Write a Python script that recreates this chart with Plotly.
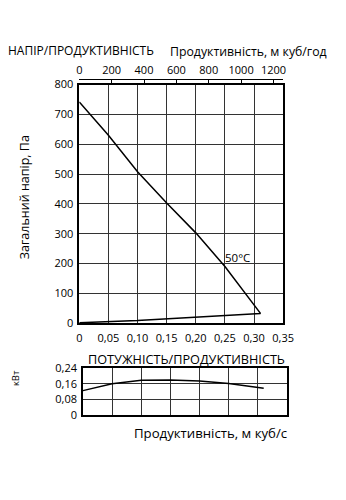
import plotly.graph_objects as go

# Data
flow_head = [0.0, 0.05, 0.10, 0.15, 0.20, 0.25, 0.311, 0.20, 0.10, 0.0]
head = [742, 630, 508, 403, 303, 190, 33, 20, 9, 2]
flow_power = [0.0, 0.05, 0.10, 0.15, 0.20, 0.25, 0.31]
power = [0.125, 0.160, 0.177, 0.179, 0.174, 0.161, 0.137]

x_ticks = [0, 0.05, 0.10, 0.15, 0.20, 0.25, 0.30, 0.35]
x_labels = ["0", "0,05", "0,10", "0,15", "0,20", "0,25", "0,30", "0,35"]
top_ticks = [0, 200, 400, 600, 800, 1000, 1200]
y_ticks = [0, 100, 200, 300, 400, 500, 600, 700, 800]
p_ticks = [0, 0.08, 0.16, 0.24]
p_labels = ["0", "0,08", "0,16", "0,24"]

W, H = 346, 500
def px(x): return x / W
def py(y): return 1 - y / H

FONT = "Open Sans"
TF = dict(family=FONT, size=11, color="black")
fig = go.Figure()
fig.add_trace(go.Scatter(x=flow_head, y=head, mode="lines",
                         line=dict(color="black", width=1.5), xaxis="x", yaxis="y",
                         showlegend=False, hoverinfo="skip"))
fig.add_trace(go.Scatter(x=flow_power, y=power, mode="lines",
                         line=dict(color="black", width=1.5), xaxis="x3", yaxis="y3",
                         showlegend=False, hoverinfo="skip"))

grid = dict(showgrid=True, gridcolor="#333", gridwidth=1, showline=True,
            linecolor="black", linewidth=1.5, mirror=True, zeroline=False,
            tickfont=TF)

fig.update_layout(
    width=W, height=H, margin=dict(l=0, r=0, t=0, b=0),
    paper_bgcolor="white", plot_bgcolor="white",
    xaxis=dict(domain=[px(79.5), px(292)], range=[0, 0.35], tickvals=x_ticks,
               ticktext=x_labels, anchor="y", ticks="outside", ticklen=4,
               tickcolor="rgba(0,0,0,0)", **grid),
    yaxis=dict(domain=[py(325), py(79)], range=[0, 800], tickvals=y_ticks,
               anchor="x", ticks="outside", ticklen=2, tickcolor="rgba(0,0,0,0)", **grid),
    xaxis2=dict(domain=[px(79.5), px(292)], range=[0, 1260], tickvals=top_ticks,
                overlaying="x", side="top", anchor="free", position=py(73),
                showline=True, linecolor="black", linewidth=1, ticks="inside",
                ticklen=3, tickcolor="black", showgrid=False, zeroline=False,
                tickfont=TF),
    xaxis3=dict(domain=[px(83.3), px(296)], range=[0, 0.35], tickvals=x_ticks,
                showticklabels=False, anchor="y3", ticks="", **grid),
    yaxis3=dict(domain=[py(420), py(371)], range=[0, 0.24], tickvals=p_ticks,
                ticktext=p_labels, anchor="x3", ticks="outside", ticklen=2,
                tickcolor="rgba(0,0,0,0)", **grid),
)
# invisible trace to activate the top axis
fig.add_trace(go.Scatter(x=[0], y=[0], xaxis="x2", yaxis="y", mode="markers",
                         marker=dict(opacity=0), showlegend=False, hoverinfo="skip"))

ann = [
    dict(text="НАПІР/ПРОДУКТИВНІСТЬ", x=px(3), y=py(44), xanchor="left", size=12),
    dict(text="Продуктивність, м куб/год", x=px(172), y=py(45), xanchor="left", size=12.3),
    dict(text="50°C", x=0.272, y=222, xref="x", yref="y", xanchor="center", size=11.5),
    dict(text="ПОТУЖНІСТЬ/ПРОДУКТИВНІСТЬ", x=px(86), y=py(362), xanchor="left", size=12.7),
    dict(text="Продуктивність, м куб/с", x=px(134), y=py(438), xanchor="left", size=13.2),
]
for a in ann:
    fig.add_annotation(text=a["text"], x=a["x"], y=a["y"], xref=a.get("xref", "paper"),
                       yref=a.get("yref", "paper"), xanchor=a["xanchor"], yanchor="middle",
                       showarrow=False, font=dict(family=FONT, size=a["size"], color="black"))
fig.add_annotation(text="Загальний напір, Па", x=px(22), y=py(195), xref="paper", yref="paper",
                   xanchor="center", yanchor="middle",
                   textangle=-90, showarrow=False, font=dict(family=FONT, size=12.5, color="black"))
fig.add_annotation(text="кВт", x=px(13), y=py(381), xref="paper", yref="paper",
                   xanchor="center", yanchor="middle",
                   textangle=-90, showarrow=False, font=dict(family=FONT, size=9.5, color="black"))

fig.write_html("out.html")
